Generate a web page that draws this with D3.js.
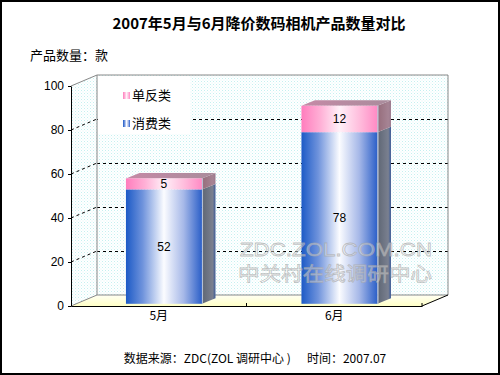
<!DOCTYPE html>
<html lang="zh">
<head>
  <meta charset="UTF-8">
  <title>2007年5月与6月降价数码相机产品数量对比</title>
  <script src="https://cdn.jsdelivr.net/npm/d3@7"></script>
  <style>
    html, body { margin: 0; padding: 0; background: #fff; }
    svg { display: block; }
  </style>
</head>
<body>
  <script>
    // data
    const categories = ["5月", "6月"];
    const seriesNames = ["消费类", "单反类"];
    const consumer = [52, 78];
    const dslr = [5, 12];
    const yTicks = [0, 20, 40, 60, 80, 100];

    const width = 500, height = 375;
    const cjk = "'Noto Sans CJK SC', 'Noto Sans', sans-serif";
    const latin = "'Liberation Sans', Arial, sans-serif";

    // plot frame (front plane) and the 3d depth offset of the walls
    const plotL = 71, plotR = 422, plotB = 306, plotT = 86;
    const depth = [26, -11];

    const y = d3.scaleLinear().domain([0, 100]).range([plotB, plotT]);
    const x = d3.scaleBand().domain(categories).range([plotL, plotR]);

    const svg = d3.create("svg")
        .attr("width", width)
        .attr("height", height)
        .attr("viewBox", [0, 0, width, height]);

    const defs = svg.append("defs");

    const dots = defs.append("pattern")
        .attr("id", "dots")
        .attr("patternUnits", "userSpaceOnUse")
        .attr("width", 3).attr("height", 3);
    dots.append("rect").attr("width", 3).attr("height", 3).attr("fill", "#fff");
    dots.append("rect").attr("width", 1).attr("height", 1).attr("fill", "#c4f0f0");
    dots.append("rect").attr("x", 1.5).attr("y", 1.5).attr("width", 1).attr("height", 1).attr("fill", "#dcf7f7");

    function hGrad(id, stops) {
      const g = defs.append("linearGradient").attr("id", id)
          .attr("x1", "0%").attr("x2", "100%").attr("y1", "0%").attr("y2", "0%");
      stops.forEach(s => g.append("stop").attr("offset", s[0]).attr("stop-color", s[1]));
    }
    hGrad("blue", [[0, "#1c5ac6"], [0.22, "#6f93dc"], [0.5, "#fbfcff"], [0.76, "#a6b8e8"], [1, "#2b5fc8"]]);
    hGrad("pink", [[0, "#ff7dbd"], [0.25, "#ffb0d6"], [0.5, "#fff0f8"], [0.76, "#ffbedd"], [1, "#ff8ac4"]]);
    hGrad("blueSide", [[0, "#9aa2b0"], [0.12, "#626a78"], [0.8, "#7a8090"], [1, "#3a5a98"]]);
    hGrad("pinkSide", [[0, "#b898a8"], [0.12, "#98707f"], [0.8, "#a68494"], [1, "#9a7a8e"]]);
    hGrad("topFace", [[0, "#c58aa6"], [1, "#a98c9c"]]);

    const floor = defs.append("linearGradient").attr("id", "floor")
        .attr("x1", "0%").attr("x2", "0%").attr("y1", "0%").attr("y2", "100%");
    floor.append("stop").attr("offset", 0).attr("stop-color", "#fffff4");
    floor.append("stop").attr("offset", 1).attr("stop-color", "#ffffc6");

    const pts = a => a.map(p => p.join(",")).join(" ");
    const bx = plotL + depth[0], bxr = plotR + depth[0];

    // walls
    svg.append("polygon")
        .attr("points", pts([[bx, y(100) + depth[1]], [bxr, y(100) + depth[1]],
                             [bxr, y(0) + depth[1]], [bx, y(0) + depth[1]]]))
        .attr("fill", "url(#dots)");
    svg.append("polygon")
        .attr("points", pts([[plotL, y(100)], [bx, y(100) + depth[1]],
                             [bx, y(0) + depth[1]], [plotL, y(0)]]))
        .attr("fill", "url(#dots)");
    svg.append("polygon")
        .attr("points", pts([[plotL, y(0)], [bx, y(0) + depth[1]],
                             [bxr, y(0) + depth[1]], [plotR, y(0)]]))
        .attr("fill", "url(#floor)");

    // grid lines on back and side wall
    const grid = svg.append("g")
        .attr("stroke", "#000")
        .attr("stroke-width", 1)
        .attr("stroke-dasharray", "3,3");
    const gridVals = yTicks.filter(v => v > 0 && v < 100);
    grid.selectAll("line.back").data(gridVals).join("line")
        .attr("class", "back")
        .attr("x1", bx).attr("x2", bxr)
        .attr("y1", d => Math.round(y(d) + depth[1]) + 0.5)
        .attr("y2", d => Math.round(y(d) + depth[1]) + 0.5);
    grid.selectAll("line.side").data(gridVals).join("line")
        .attr("class", "side")
        .attr("x1", plotL).attr("x2", bx)
        .attr("y1", d => y(d)).attr("y2", d => y(d) + depth[1]);

    // wall borders
    svg.append("polyline")
        .attr("points", pts([[plotL, y(100)], [bx, y(100) + depth[1]], [bxr, y(100) + depth[1]],
                             [bxr, y(0) + depth[1]]]))
        .attr("fill", "none").attr("stroke", "#888");
    svg.append("polyline")
        .attr("points", pts([[bx, y(100) + depth[1]], [bx, y(0) + depth[1]],
                             [bxr, y(0) + depth[1]]]))
        .attr("fill", "none").attr("stroke", "#888");
    svg.append("line")
        .attr("x1", plotL).attr("y1", y(0))
        .attr("x2", bx).attr("y2", y(0) + depth[1])
        .attr("stroke", "#888");
    svg.append("line")
        .attr("x1", plotR).attr("y1", y(0))
        .attr("x2", bxr).attr("y2", y(0) + depth[1])
        .attr("stroke", "#000");

    // legend box
    svg.append("rect")
        .attr("x", 98).attr("y", 76).attr("width", 92).attr("height", 58)
        .attr("fill", "#fff");
    const legend = svg.append("g");
    const legendItems = [
      { name: seriesNames[1], fill: "url(#pink)", y: 92 },
      { name: seriesNames[0], fill: "url(#blue)", y: 120 }
    ];
    legend.selectAll("rect").data(legendItems).join("rect")
        .attr("x", 123).attr("y", d => d.y).attr("width", 7).attr("height", 7)
        .attr("fill", d => d.fill);
    legend.selectAll("text").data(legendItems).join("text")
        .attr("x", 132).attr("y", d => d.y + 8)
        .attr("font-family", cjk).attr("font-size", 13)
        .text(d => d.name);

    // bars: placed a little behind the front plane, half as deep as the walls
    const barW = 76;
    const shift = [depth[0] * 0.2, depth[1] * 0.2];
    const bd = [depth[0] * 0.52, depth[1] * 0.5];
    const stacks = categories.map((c, i) => {
      const x0 = x(c) + x.bandwidth() / 2 - barW / 2 + shift[0];
      return [
        { cat: c, lo: 0, hi: consumer[i], v: consumer[i], fill: "url(#blue)", side: "url(#blueSide)", x0 },
        { cat: c, lo: consumer[i], hi: consumer[i] + dslr[i], v: dslr[i], fill: "url(#pink)", side: "url(#pinkSide)", x0 }
      ];
    });
    const segs = stacks.flat();

    const bars = svg.append("g");
    bars.selectAll("polygon.side").data(segs).join("polygon")
        .attr("class", "side")
        .attr("points", d => {
          const xr = d.x0 + barW, yt = y(d.hi) + shift[1], yb = y(d.lo) + shift[1];
          return pts([[xr, yt], [xr + bd[0], yt + bd[1]], [xr + bd[0], yb + bd[1]], [xr, yb]]);
        })
        .attr("fill", d => d.side);
    bars.selectAll("polygon.top").data(stacks.map(s => s[1])).join("polygon")
        .attr("class", "top")
        .attr("points", d => {
          const yt = y(d.hi) + shift[1];
          return pts([[d.x0, yt], [d.x0 + bd[0], yt + bd[1]], [d.x0 + barW + bd[0], yt + bd[1]], [d.x0 + barW, yt]]);
        })
        .attr("fill", "url(#topFace)");
    bars.selectAll("rect").data(segs).join("rect")
        .attr("x", d => d.x0)
        .attr("y", d => y(d.hi) + shift[1])
        .attr("width", barW)
        .attr("height", d => y(d.lo) - y(d.hi))
        .attr("fill", d => d.fill);
    bars.selectAll("line").data(categories).join("line")
        .attr("x1", (c, i) => stacks[i][0].x0 + barW + 0.5)
        .attr("x2", (c, i) => stacks[i][0].x0 + barW + 0.5)
        .attr("y1", (c, i) => y(consumer[i] + dslr[i]) + shift[1])
        .attr("y2", y(0) + shift[1])
        .attr("stroke", "#b8c4d8").attr("stroke-width", 1);
    bars.selectAll("text").data(segs).join("text")
        .attr("x", d => d.x0 + barW / 2)
        .attr("y", d => (y(d.lo) + y(d.hi)) / 2 + shift[1] + 4)
        .attr("text-anchor", "middle")
        .attr("font-family", latin).attr("font-size", 12)
        .text(d => d.v);

    // axes
    const yAxis = svg.append("g").attr("transform", `translate(${plotL},0)`)
        .call(d3.axisLeft(y).tickValues(yTicks).tickSize(3).tickSizeOuter(0));
    yAxis.select(".domain").attr("stroke", "#000");
    yAxis.selectAll("text").attr("font-family", latin).attr("font-size", 12).attr("fill", "#000").attr("dx", "-1");

    const xAxis = svg.append("g").attr("transform", `translate(0,${plotB})`)
        .call(d3.axisBottom(x).tickSize(0).tickSizeOuter(0));
    xAxis.select(".domain").attr("stroke", "#000");
    xAxis.selectAll("text").attr("font-family", cjk).attr("font-size", 12).attr("fill", "#000").attr("dy", "0.95em");
    svg.append("g").selectAll("line").data([plotL + x.bandwidth(), plotR]).join("line")
        .attr("x1", d => d).attr("x2", d => d)
        .attr("y1", plotB - 3).attr("y2", plotB)
        .attr("stroke", "#000");

    // watermark
    const wm = svg.append("g")
        .attr("fill", "#fff").attr("fill-opacity", 0.35)
        .attr("stroke", "#a8a8a8").attr("stroke-opacity", 0.7).attr("stroke-width", 0.8)
        .attr("font-family", latin);
    wm.append("text").attr("x", 240).attr("y", 256)
        .attr("font-size", 19).attr("textLength", 192).attr("lengthAdjust", "spacingAndGlyphs")
        .text("ZDC.ZOL.COM.CN");
    wm.append("text").attr("x", 238).attr("y", 281)
        .attr("font-family", cjk)
        .attr("font-size", 19).attr("textLength", 194).attr("lengthAdjust", "spacingAndGlyphs")
        .text("中关村在线调研中心");

    // titles
    svg.append("text")
        .attr("x", 259).attr("y", 29)
        .attr("text-anchor", "middle")
        .attr("font-family", cjk).attr("font-size", 15).attr("font-weight", "bold")
        .text("2007年5月与6月降价数码相机产品数量对比");
    svg.append("text")
        .attr("x", 30).attr("y", 60)
        .attr("font-family", cjk).attr("font-size", 13)
        .text("产品数量：款");
    svg.append("text")
        .attr("x", 255).attr("y", 363)
        .attr("text-anchor", "middle")
        .attr("font-family", cjk).attr("font-size", 12)
        .attr("xml:space", "preserve")
        .text("数据来源：ZDC(ZOL 调研中心 )      时间：2007.07");

    // outer frame
    svg.append("rect")
        .attr("x", 1).attr("y", 1).attr("width", width - 2).attr("height", height - 2)
        .attr("fill", "none").attr("stroke", "#000").attr("stroke-width", 2);

    document.body.appendChild(svg.node());
  </script>
</body>
</html>
